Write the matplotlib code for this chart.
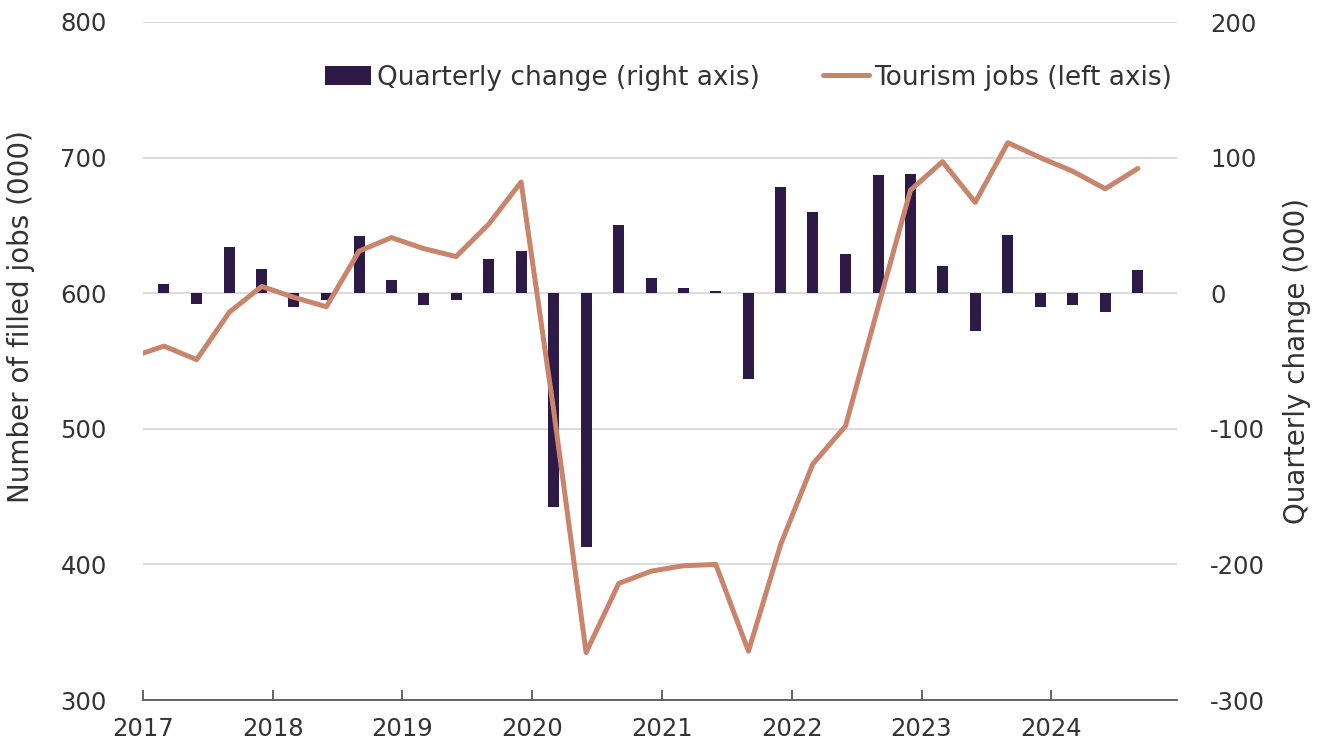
import numpy as np
import pandas as pd
import matplotlib
matplotlib.use("Agg")
import matplotlib.pyplot as plt
import matplotlib.dates as mdates

# quarterly points (1st of Mar/Jun/Sep/Dec)
line_dates = pd.date_range("2016-12-01", periods=32, freq="3MS")
tourism_jobs = [553, 561, 551, 586, 605, 597, 590, 631, 641, 633, 627, 651,
                682, 515, 335, 386, 395, 399, 400, 336, 415, 474, 502, 590,
                676, 697, 667, 711, 700, 690, 677, 692]

bar_dates = line_dates[1:]
quarterly_change = [7, -8, 34, 18, -10, -5, 42, 10, -9, -5, 25, 31,
                    -158, -187, 50, 11, 4, 1.5, -63, 78, 60, 29, 87, 88,
                    20, -28, 43, -10, -9, -14, 17]

left_ticks = [300, 400, 500, 600, 700, 800]
right_ticks = [-300, -200, -100, 0, 100, 200]

bar_color = "#2d1a47"
line_color = "#c9846c"
text_color = "#333333"

plt.rcParams["font.family"] = "DejaVu Sans"
plt.rcParams["font.size"] = 17.5
plt.rcParams["axes.unicode_minus"] = False

fig = plt.figure(figsize=(13.17, 7.47), dpi=100)
ax = fig.add_axes([143 / 1317, 1 - 700 / 747, (1177 - 143) / 1317, 678 / 747])
ax2 = ax.twinx()

# bars + grid on the right axis (drawn underneath)
bars = ax2.bar(bar_dates, quarterly_change, width=31, color=bar_color,
               label="Quarterly change (right axis)", zorder=3)
ax2.set_ylim(-300, 200)
ax2.set_yticks(right_ticks)
ax2.grid(axis="y", color="#d9d9d9", lw=1.3, zorder=0)
ax2.set_axisbelow(True)

# line on the left axis, placed on top
ax.set_zorder(ax2.get_zorder() + 1)
ax.patch.set_visible(False)
line, = ax.plot(line_dates, tourism_jobs, color=line_color, lw=3.6,
                label="Tourism jobs (left axis)", solid_capstyle="round")
ax.set_ylim(300, 800)
ax.set_yticks(left_ticks)

ax.set_xlim(pd.Timestamp("2017-01-01"), pd.Timestamp("2024-12-20"))
ax.xaxis.set_major_locator(mdates.YearLocator())
ax.xaxis.set_major_formatter(mdates.DateFormatter("%Y"))

for a in (ax, ax2):
    for s in ("top", "left", "right", "bottom"):
        a.spines[s].set_visible(False)
ax.spines["bottom"].set_visible(True)
ax.spines["bottom"].set_color("#595959")
ax.spines["bottom"].set_linewidth(1.3)

ax.tick_params(axis="x", direction="in", length=7, width=1.3, color="#595959",
               colors=text_color, pad=12)
ax.tick_params(axis="y", length=0, colors=text_color, pad=26)
ax2.tick_params(axis="y", length=0, colors=text_color, pad=24)

ax.set_ylabel("Number of filled jobs (000)", color=text_color, fontsize=20)
ax.yaxis.set_label_coords(-0.104, 0.566)
ax2.set_ylabel("Quarterly change (000)", color=text_color, labelpad=13,
               fontsize=20)

ax.legend([bars, line], [bars.get_label(), line.get_label()], ncol=2,
          frameon=False, loc="center right", bbox_to_anchor=(1.008, 0.918),
          handlelength=1.75, handletextpad=0.2, columnspacing=2.4,
          borderpad=0, labelcolor=text_color, fontsize=19)

fig.savefig("out.png", dpi=100)
